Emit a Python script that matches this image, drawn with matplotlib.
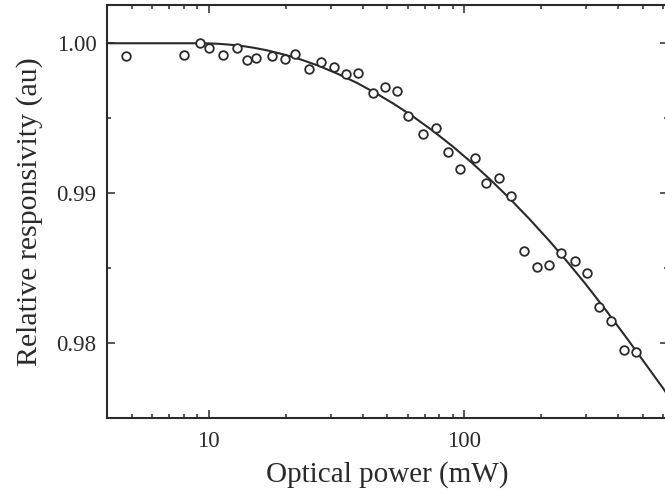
import numpy as np
import matplotlib.pyplot as plt
from matplotlib.ticker import FixedLocator, LogLocator, NullFormatter, FormatStrFormatter, MultipleLocator

# --- measured responsivity vs optical power ---
power_mw = [4.74, 8.02, 9.22, 10.06, 11.41, 12.86, 14.16, 15.36, 17.62, 19.93,
            21.77, 24.59, 27.56, 30.87, 34.60, 38.54, 44.00, 48.83, 54.49, 60.28,
            68.74, 77.56, 86.36, 96.47, 109.7, 121.9, 137.0, 152.7, 172.0, 192.3,
            215.4, 239.3, 271.4, 303.1, 336.8, 375.2, 422.8, 469.8]
responsivity = [0.99915, 0.99922, 1.00000, 0.99971, 0.99922, 0.99967, 0.99889, 0.99904,
                0.99915, 0.99895, 0.99929, 0.99827, 0.99873, 0.99844, 0.99792, 0.99800,
                0.99671, 0.99709, 0.99682, 0.99517, 0.99393, 0.99433, 0.99277, 0.99160,
                0.99237, 0.99071, 0.99100, 0.98984, 0.98617, 0.98511, 0.98522, 0.98600,
                0.98549, 0.98471, 0.98244, 0.98149, 0.97955, 0.97944]

# --- fitted saturation curve ---
fit_power = [4.0, 9.3, 10, 11, 12, 13.5, 15, 17, 20, 23, 27, 32, 38, 45, 53, 63, 75,
             90, 107, 127, 150, 180, 215, 255, 300, 360, 430, 510, 600, 700]
fit_resp = [1.00000, 1.00000, 0.99999, 0.99996, 0.99991, 0.99982, 0.99970, 0.99952,
            0.99922, 0.99891, 0.99849, 0.99796, 0.99736, 0.99668, 0.99596, 0.99512,
            0.99419, 0.99313, 0.99204, 0.99088, 0.98968, 0.98828, 0.98684, 0.98537,
            0.98390, 0.98216, 0.98040, 0.97866, 0.97700, 0.97530]

y_ticks = [0.98, 0.99, 1.00]
x_ticks = [10, 100]

plt.rcParams['font.family'] = ['Liberation Serif', 'DejaVu Serif']
ink = '#2a2a2a'

fig = plt.figure(figsize=(6.65, 4.94), dpi=100)
ax = fig.add_axes([107 / 665, 1 - 418 / 494, (668 - 107) / 665, (418 - 5) / 494])

ax.plot(fit_power, fit_resp, color=ink, lw=1.5, zorder=2)
ax.plot(power_mw, responsivity, linestyle='none', marker='o', ms=6.2,
        mfc='white', mec=ink, mew=1.3, zorder=3)

ax.set_xscale('log')
ax.set_xlim(4.0, 627)
ax.set_ylim(0.97502, 1.00255)

ax.xaxis.set_major_locator(FixedLocator(x_ticks))
ax.xaxis.set_major_formatter(FormatStrFormatter('%d'))
ax.xaxis.set_minor_locator(LogLocator(base=10, subs=np.arange(2, 10)))
ax.xaxis.set_minor_formatter(NullFormatter())
ax.yaxis.set_major_locator(FixedLocator(y_ticks))
ax.yaxis.set_major_formatter(FormatStrFormatter('%.2f'))
ax.yaxis.set_minor_locator(MultipleLocator(0.005))

ax.tick_params(which='both', direction='in', top=True, right=True,
               color=ink, labelcolor=ink, labelsize=16.5, width=1.1)
ax.tick_params(which='major', length=5.5)
ax.tick_params(which='minor', length=3.2)
ax.tick_params(axis='x', which='major', pad=9)
ax.tick_params(axis='y', which='major', pad=7.5)
for sp in ax.spines.values():
    sp.set_linewidth(1.5)
    sp.set_color(ink)

ax.set_xlabel('Optical power (mW)', fontsize=21, color=ink, labelpad=7)
ax.set_ylabel('Relative responsivity (au)', fontsize=21.5, color=ink, labelpad=10)

fig.savefig('out.png', dpi=100)
